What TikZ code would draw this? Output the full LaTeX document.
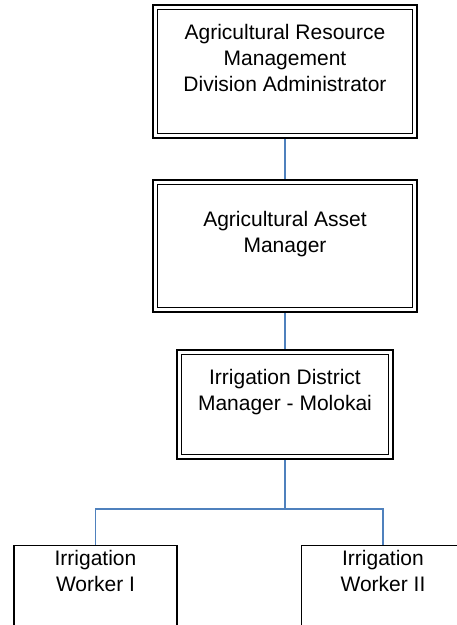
\documentclass[tikz,border=0pt]{standalone}
\usepackage{fontspec}
\setmainfont{Liberation Sans}
\usetikzlibrary{backgrounds}
\definecolor{conn}{HTML}{4F81BD}
\begin{document}
\begin{tikzpicture}[x=1pt,y=-1pt,
  dbox/.style={draw=black,line width=1.7pt,double=white,double distance=2.8pt,rectangle,inner sep=0pt,outer sep=0pt},
  sbox/.style={draw=black,line width=1.5pt,rectangle,inner sep=0pt,outer sep=0pt},
  lbl/.style={font=\fontsize{21}{26}\selectfont,align=center,inner sep=0pt,anchor=base},
  conn/.style={draw=conn,line width=1.5pt}]
\clip (0,0) rectangle (457,625);
\node[dbox,minimum width=259.5pt,minimum height=128.5pt] (b1) at (285,71.5) {};
\node[dbox,minimum width=259.5pt,minimum height=127.5pt] (b2) at (285,246) {};
\node[dbox,minimum width=211.5pt,minimum height=104.5pt] (b3) at (285,404.5) {};
\node[sbox,minimum width=163pt,minimum height=160pt] (w1) at (95.5,625.5) {};
\node[sbox,minimum width=163pt,minimum height=160pt] (w2) at (383,625.5) {};
\node[lbl] (t1) at (285,91.5) {Agricultural Resource\\Management\\Division Administrator};
\node[lbl] (t2) at (285,252.5) {Agricultural Asset\\Manager};
\node[lbl] (t3) at (285,410.5) {Irrigation District\\Manager - Molokai};
\node[lbl] (t4) at (95.5,591.7) {Irrigation\\Worker I};
\node[lbl] (t5) at (383,591.7) {Irrigation\\Worker II};
\coordinate (j) at (285,509);
\begin{scope}[on background layer]
\draw[conn] (b1.south) -- (b2.north);
\draw[conn] (b2.south) -- (b3.north);
\draw[conn] (b3.south) -- (j);
\draw[conn] (w1.north) |- (j) -| (w2.north);
\end{scope}
\end{tikzpicture}
\end{document}
